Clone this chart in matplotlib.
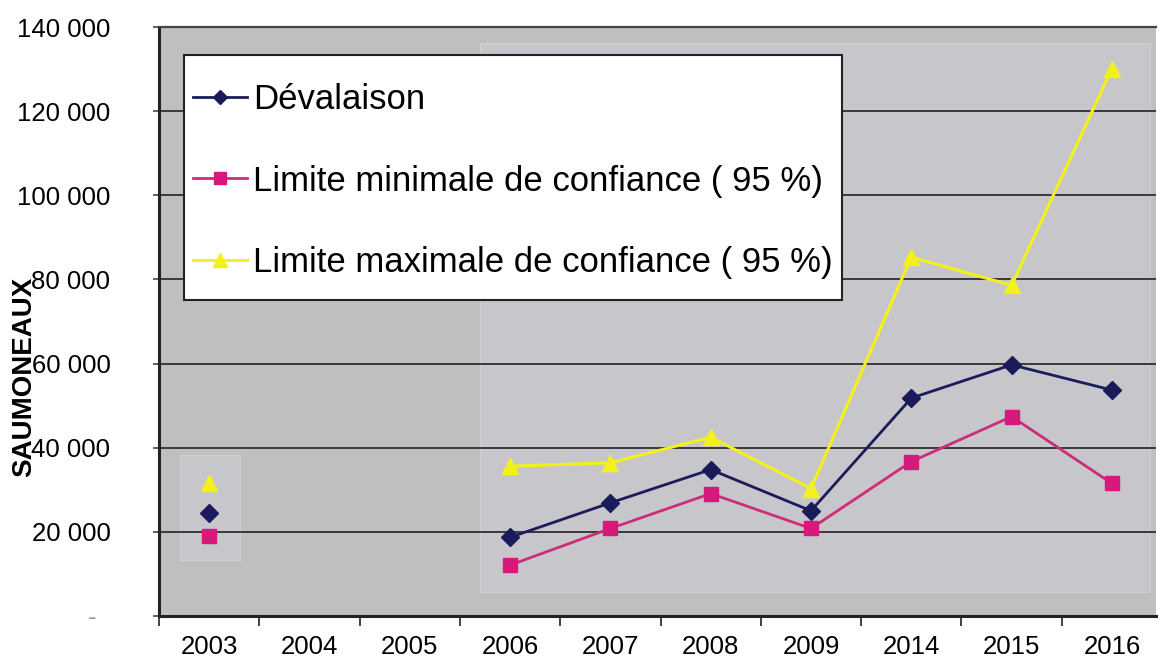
import numpy as np
import matplotlib
matplotlib.use("Agg")
import matplotlib.pyplot as plt
from matplotlib.patches import Rectangle
from matplotlib.ticker import FixedLocator, FuncFormatter

plt.rcParams['font.family'] = ['Liberation Sans', 'DejaVu Sans']

# data (nan = no value that year)
years = ['2003', '2004', '2005', '2006', '2007', '2008', '2009', '2014', '2015', '2016']
devalaison = [24600, np.nan, np.nan, 18700, 26900, 34800, 25000, 51800, 59700, 53700]
limite_min = [19000, np.nan, np.nan, 12100, 20800, 29100, 20800, 36700, 47400, 31500]
limite_max = [31700, np.nan, np.nan, 35600, 36400, 42500, 30300, 85300, 78600, 130100]
y_ticks = [0, 20000, 40000, 60000, 80000, 100000, 120000, 140000]

fig = plt.figure(figsize=(11.6, 6.64), dpi=100)
ax = fig.add_axes([0.1371, 0.0723, 0.8595, 0.887])
ax.set_facecolor('#bfbfbf')
# lighter scanned areas behind the data
ax.add_patch(Rectangle((0.322, 0.041), 0.672, 0.932, transform=ax.transAxes,
                       facecolor='#c7c7cb', edgecolor='#d0d0d0', lw=0.8, zorder=0))
ax.add_patch(Rectangle((0.021, 0.095), 0.06, 0.178, transform=ax.transAxes,
                       facecolor='#c7c7cb', edgecolor='#d0d0d0', lw=0.8, zorder=0))

x = np.arange(len(years))
ax.plot(x, devalaison, color='#1b1b5c', lw=2.0, marker='D', ms=9,
        label='Dévalaison', zorder=4)
ax.plot(x, limite_min, color='#cc2d78', lw=2.0, marker='s', ms=10,
        mfc='#d8197c', mec='#d8197c', label='Limite minimale de confiance ( 95 %)', zorder=3)
ax.plot(x, limite_max, color='#f2f21a', lw=2.2, marker='^', ms=12,
        label='Limite maximale de confiance ( 95 %)', zorder=3)

ax.set_xlim(-0.5, 9.44)
ax.set_ylim(0, 140000)

ax.set_xticks(x)
ax.set_xticklabels(years)
ax.xaxis.set_minor_locator(FixedLocator(np.arange(-0.5, 9.6, 1.0)))
ax.tick_params(axis='x', which='major', length=0, pad=14, labelsize=18.5)
ax.tick_params(axis='x', which='minor', length=7, width=1.3, color='#333333', direction='out')

ax.set_yticks(y_ticks)
ax.yaxis.set_major_formatter(FuncFormatter(
    lambda v, p: '-  ' if v == 0 else f'{int(v):,}'.replace(',', ' ')))
ax.tick_params(axis='y', length=4, width=1.3, color='#555555', pad=31, labelsize=18.5)
ax.get_yticklabels()[0].set_color('#999999')
ax.grid(axis='y', color='#3a3a3a', lw=1.4)
ax.set_axisbelow(True)

for s in ['left', 'bottom']:
    ax.spines[s].set_color('#222222')
    ax.spines[s].set_linewidth(2.2)
ax.spines['top'].set_color('#444444')
ax.spines['top'].set_linewidth(1.6)
ax.spines['right'].set_visible(False)

ax.set_ylabel('SAUMONEAUX', fontsize=20, fontweight='bold')
ax.yaxis.set_label_coords(-0.122, 0.406)

# legend box drawn separately so the padding can differ per side
ax.add_patch(Rectangle((0.0251, 0.5365), 0.66, 0.416, transform=ax.transAxes,
                       facecolor='white', edgecolor='#222222', lw=1.5, zorder=5))
leg = ax.legend(loc='upper left', bbox_to_anchor=(0.0341, 0.905), fontsize=25,
                frameon=False, handlelength=1.56, handletextpad=0.17,
                labelspacing=1.4, borderpad=0, borderaxespad=0, markerscale=0.8)
leg.set_zorder(6)

fig.savefig('out.png', dpi=100)
